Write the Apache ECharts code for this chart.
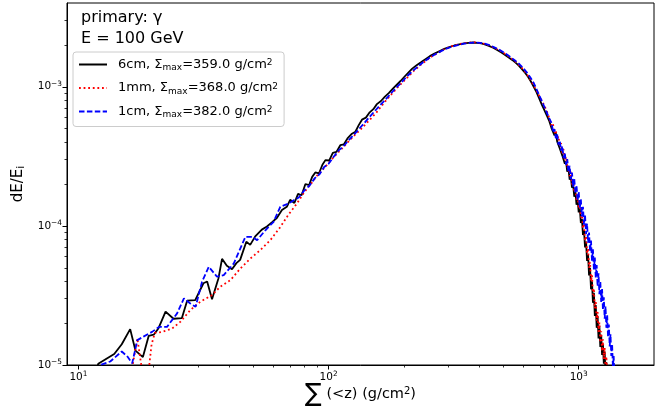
<!DOCTYPE html>
<html>
<head>
<meta charset="utf-8">
<script src="https://cdn.jsdelivr.net/npm/echarts@6/dist/echarts.min.js"></script>
<style>html,body{margin:0;padding:0;background:#fff}#c{width:664px;height:410px}</style>
</head>
<body>
<div id="c"></div>
<script>
const FONT = '"DejaVu Sans", sans-serif';

// ---- data ----
const seriesNames = ['6cm', '1mm', '1cm'];
const sigmaMax = ['359.0', '368.0', '382.0'];
const titleLines = ['primary: \u03b3', 'E = 100 GeV'];

const xMajor = [10, 100, 1000];
const xMinor = [20, 30, 40, 50, 60, 70, 80, 90, 200, 300, 400, 500, 600, 700, 800, 900];
const yMajor = [1e-5, 1e-4, 1e-3];
const yMinor = [2e-5, 3e-5, 4e-5, 5e-5, 6e-5, 7e-5, 8e-5, 9e-5, 2e-4, 3e-4, 4e-4, 5e-4, 6e-4, 7e-4, 8e-4, 9e-4, 2e-3, 3e-3];

const blackX = [11.3,12.0,13.9,14.9,16.1,16.9,18.1,19.1,20.0,20.9,22.3,24.0,25.9,27.2,29.3,31.6,32.7,34.2,36.3,37.5,39.2,41.1,42.8,44.3,46.9,48.6,50.9,54.1,56.7,59.3,62.1,65.1,68.1,70.2,
  73.0,75.5,78.0,80.8,83.5,86.0,88.5,91.5,94.5,97.1,100.5,104,107.5,111.4,115,119,124,128,132,136,141,146,151,156,162,168,174,180,187,194,201,208,216,225,234,244,254,265,277,290,304,318,333,348,363,378,393,408,424,440,457,474,491,508,525,542,559,576,593,610,627,644,661,678,695,712,729,746,763,
  780,790,800,810,820,830,840,850,860,870,880,890,900,910,920,930,940,950,960,970,980,990,1000,1010,1020,1030,1040,1050,1060,1070,1080,1090,1100,1110,1120,1130,1140,1150,1160,1170,1180,1190,1200,1210,1220,1230,1240,1250,1260,1270,1280,1290,1300];
const blackY = [7.0e-6,1.02e-5,1.20e-5,1.41e-5,1.81e-5,1.27e-5,1.14e-5,1.62e-5,1.65e-5,1.84e-5,2.42e-5,2.15e-5,2.17e-5,2.90e-5,2.93e-5,3.87e-5,3.98e-5,2.97e-5,4.21e-5,5.8e-5,5.16e-5,4.88e-5,5.4e-5,5.7e-5,7.7e-5,7.3e-5,8.4e-5,9.4e-5,9.9e-5,1.06e-4,1.14e-4,1.30e-4,1.37e-4,1.54e-4,
  1.46e-4,1.70e-4,1.66e-4,2.0e-4,1.96e-4,2.25e-4,2.42e-4,2.38e-4,2.75e-4,2.97e-4,2.95e-4,3.35e-4,3.4e-4,3.8e-4,3.85e-4,4.25e-4,4.6e-4,4.75e-4,5.3e-4,5.8e-4,6.0e-4,6.55e-4,6.9e-4,7.5e-4,7.9e-4,8.5e-4,9.0e-4,9.6e-4,1.03e-3,1.1e-3,1.18e-3,1.26e-3,1.35e-3,1.43e-3,1.5e-3,1.58e-3,1.66e-3,1.73e-3,1.8e-3,1.87e-3,1.93e-3,1.98e-3,2.02e-3,2.05e-3,2.07e-3,2.08e-3,2.07e-3,2.05e-3,2.01e-3,1.96e-3,1.9e-3,1.83e-3,1.76e-3,1.69e-3,1.62e-3,1.56e-3,1.49e-3,1.42e-3,1.34e-3,1.26e-3,1.18e-3,1.09e-3,1.0e-3,9.15e-4,8.25e-4,7.45e-4,6.8e-4,6.2e-4,5.65e-4,
  5.0e-4,5.15e-4,4.47e-4,4.64e-4,4.05e-4,4.1e-4,3.6e-4,3.7e-4,3.2e-4,3.3e-4,2.8e-4,2.9e-4,2.45e-4,2.58e-4,2.15e-4,2.25e-4,1.88e-4,1.98e-4,1.62e-4,1.75e-4,1.42e-4,1.55e-4,1.25e-4,1.34e-4,1.05e-4,1.12e-4,8.6e-5,9.3e-5,7.0e-5,7.7e-5,5.6e-5,6.2e-5,4.4e-5,5.0e-5,3.5e-5,4.0e-5,2.8e-5,3.3e-5,2.25e-5,2.7e-5,1.85e-5,2.25e-5,1.55e-5,1.9e-5,1.35e-5,1.65e-5,1.18e-5,1.42e-5,1.02e-5,1.25e-5,8.8e-6,1.05e-5,7.5e-6];

const redX = [15.9,17.2,18.6,19.6,20.2,21.6,23.7,25.6,28.0,30.7,34.2,36.9,40.5,44.4,48.7,53.3,58.5,64.1,69.0,74.8,
  80,85,90,96,102,108,114,121,128,136,145,155,166,177,190,204,219,235,252,270,290,311,333,356,380,404,430,457,484,511,538,565,592,619,646,673,700,727,754,
  780,790,800,810,820,830,840,850,860,870,880,890,900,910,920,930,940,950,960,970,980,990,1000,1010,1020,1030,1040,1050,1060,1070,1080,1090,1100,1110,1120,1130,1140,1150,1160,1170,1180,1190,1200,1210,1220,1230,1240,1250,1260,1270,1280,1290,1300,1310,1320];
const redY = [7e-6,1.55e-5,6e-6,1.4e-5,1.7e-5,1.73e-5,1.83e-5,2.05e-5,2.48e-5,2.85e-5,3.18e-5,3.65e-5,4.07e-5,4.94e-5,5.83e-5,6.69e-5,7.9e-5,9.8e-5,1.2e-4,1.45e-4,
  1.75e-4,2.0e-4,2.3e-4,2.6e-4,2.95e-4,3.3e-4,3.65e-4,4.1e-4,4.55e-4,5.05e-4,5.7e-4,6.5e-4,7.6e-4,8.7e-4,1.0e-3,1.14e-3,1.3e-3,1.45e-3,1.6e-3,1.73e-3,1.86e-3,1.96e-3,2.03e-3,2.07e-3,2.09e-3,2.07e-3,2.01e-3,1.92e-3,1.82e-3,1.71e-3,1.6e-3,1.49e-3,1.37e-3,1.24e-3,1.1e-3,9.6e-4,8.4e-4,7.4e-4,6.35e-4,
  5.18e-4,5.36e-4,4.63e-4,4.88e-4,4.2e-4,4.41e-4,3.77e-4,3.94e-4,3.34e-4,3.55e-4,2.95e-4,3.13e-4,2.6e-4,2.76e-4,2.28e-4,2.46e-4,1.99e-4,2.14e-4,1.74e-4,1.87e-4,1.52e-4,1.67e-4,1.33e-4,1.46e-4,1.15e-4,1.24e-4,9.55e-5,1.04e-4,7.8e-5,8.5e-5,6.3e-5,6.9e-5,5.0e-5,5.5e-5,4.0e-5,4.44e-5,3.2e-5,3.55e-5,2.55e-5,2.9e-5,2.08e-5,2.41e-5,1.73e-5,2.02e-5,1.45e-5,1.75e-5,1.26e-5,1.53e-5,1.1e-5,1.33e-5,9.6e-6,1.15e-5,8.2e-6,9.4e-6,7.5e-6];

const blueX = [11.6,12.2,13.4,14.9,15.7,16.4,17.2,18.2,19.7,21.0,22.6,24.8,26.4,28.0,29.4,31.2,33.2,35.8,38.1,41.8,44.4,46.5,49.4,51.8,55.9,60.3,64.1,69.3,
  72.6,76,80,84,88,92,96,100,105,110,115,120,126,132,138,145,152,160,168,177,186,196,206,217,229,241,254,268,283,298,314,331,348,366,384,402,421,440,460,480,500,520,540,560,580,600,620,640,660,680,700,720,740,760,
  780,790,800,810,820,830,840,850,860,870,880,890,900,910,920,930,940,950,960,970,980,990,1000,1010,1020,1030,1040,1050,1060,1070,1080,1090,1100,1110,1120,1130,1140,1150,1160,1170,1180,1190,1200,1210,1220,1230,1240,1250,1260,1270,1280,1290,1300,1310,1320,1330,1340,1350,1360,1370,1380,1390,1400,1410];
const blueY = [8e-6,1.0e-5,1.06e-5,1.25e-5,1.15e-5,1.03e-5,1.51e-5,1.60e-5,1.73e-5,1.88e-5,1.88e-5,2.35e-5,3.01e-5,2.77e-5,2.62e-5,3.97e-5,5.08e-5,4.31e-5,4.43e-5,5.37e-5,6.89e-5,8.34e-5,8.34e-5,7.9e-5,9.3e-5,1.07e-4,1.37e-4,1.45e-4,
  1.53e-4,1.6e-4,1.8e-4,1.95e-4,2.2e-4,2.35e-4,2.65e-4,2.8e-4,3.15e-4,3.5e-4,3.75e-4,4.1e-4,4.5e-4,4.95e-4,5.4e-4,6.0e-4,6.6e-4,7.3e-4,8.0e-4,8.9e-4,9.8e-4,1.08e-3,1.19e-3,1.3e-3,1.41e-3,1.52e-3,1.62e-3,1.72e-3,1.81e-3,1.89e-3,1.95e-3,2.0e-3,2.04e-3,2.07e-3,2.08e-3,2.07e-3,2.04e-3,1.99e-3,1.92e-3,1.85e-3,1.77e-3,1.69e-3,1.61e-3,1.53e-3,1.45e-3,1.36e-3,1.27e-3,1.17e-3,1.07e-3,9.5e-4,8.45e-4,7.55e-4,6.75e-4,6.0e-4,
  5.46e-4,4.70e-4,4.96e-4,4.27e-4,4.54e-4,3.84e-4,4.11e-4,3.48e-4,3.75e-4,3.08e-4,3.35e-4,2.75e-4,3.02e-4,2.43e-4,2.7e-4,2.17e-4,2.42e-4,1.91e-4,2.17e-4,1.71e-4,1.96e-4,1.52e-4,1.76e-4,1.35e-4,1.55e-4,1.17e-4,1.37e-4,1.02e-4,1.2e-4,8.76e-5,1.04e-4,7.57e-5,8.96e-5,6.56e-5,7.84e-5,5.62e-5,6.79e-5,4.87e-5,5.92e-5,4.26e-5,5.22e-5,3.68e-5,4.56e-5,3.23e-5,4.01e-5,2.84e-5,3.52e-5,2.49e-5,3.07e-5,2.15e-5,2.64e-5,1.85e-5,2.28e-5,1.59e-5,1.95e-5,1.36e-5,1.66e-5,1.16e-5,1.41e-5,9.7e-6,1.16e-5,7.9e-6,9.0e-6,7.2e-6];

// ---- build ----
function zip(xs, ys) { return xs.map((x, i) => [x, ys[i]]); }
function powLabel(v) {
  const e = Math.round(Math.log10(v));
  return '{b|10}{s|' + (e < 0 ? '\u2212' + (-e) : e) + '}';
}
const tickRich = {
  b: { fontFamily: FONT, fontSize: 10.5, color: '#000', verticalAlign: 'middle' },
  s: { fontFamily: FONT, fontSize: 7.4, color: '#000', verticalAlign: 'middle', padding: [0, 0, 5, 0] }
};
const X_MIN = 9, X_MAX = 2000, Y_MIN = 1e-5, Y_MAX = 4e-3;
const gridBox = { left: 67, right: 10, top: 3, bottom: 45 };
const LW = 1.8;

const chart = echarts.init(document.getElementById('c'));
const option = {
  animation: false,
  backgroundColor: '#fff',
  grid: [
    Object.assign({ show: true, borderColor: '#000', borderWidth: 1, outerBoundsMode: 'none', containLabel: false }, gridBox),
    Object.assign({ show: false, outerBoundsMode: 'none', containLabel: false }, gridBox)
  ],
  xAxis: [
    {
      gridIndex: 0, type: 'log', logBase: 10, min: X_MIN, max: X_MAX,
      axisLine: { show: true, lineStyle: { color: '#000', width: 1 } },
      axisTick: { show: true, customValues: xMajor, length: 4.5, lineStyle: { color: '#000', width: 1 } },
      axisLabel: { show: true, customValues: xMajor, formatter: powLabel, margin: 6, rich: tickRich },
      splitLine: { show: false }, minorTick: { show: false },
      name: '{sum|\u2211}{t| (<z) (g/cm}{sup|2}{t|)}',
      nameLocation: 'middle', nameGap: 17, nameMoveOverlap: false,
      nameTextStyle: {
        fontFamily: FONT, fontSize: 14.5, color: '#000',
        rich: {
          sum: { fontFamily: FONT, fontSize: 25, color: '#000', verticalAlign: 'middle' },
          t: { fontFamily: FONT, fontSize: 14.5, color: '#000', verticalAlign: 'middle' },
          sup: { fontFamily: FONT, fontSize: 10, color: '#000', verticalAlign: 'middle', padding: [0, 0, 7, 0] }
        }
      }
    },
    {
      gridIndex: 1, type: 'log', logBase: 10, min: X_MIN, max: X_MAX,
      axisLine: { show: false },
      axisTick: { show: true, customValues: xMinor, length: 2.5, lineStyle: { color: '#000', width: 0.8 } },
      axisLabel: { show: false }, splitLine: { show: false }
    }
  ],
  yAxis: [
    {
      gridIndex: 0, type: 'log', logBase: 10, min: Y_MIN, max: Y_MAX,
      axisLine: { show: true, lineStyle: { color: '#000', width: 1 } },
      axisTick: { show: true, customValues: yMajor, length: 4.5, lineStyle: { color: '#000', width: 1 } },
      axisLabel: { show: true, customValues: yMajor, formatter: powLabel, margin: 5, rich: tickRich },
      splitLine: { show: false }, minorTick: { show: false },
      name: '{t|dE/E}{sub|i}',
      nameLocation: 'middle', nameGap: 40, nameRotate: 90,
      nameTextStyle: {
        fontFamily: FONT, fontSize: 15, color: '#000',
        rich: {
          t: { fontFamily: FONT, fontSize: 15, color: '#000', verticalAlign: 'middle' },
          sub: { fontFamily: FONT, fontSize: 10.5, color: '#000', verticalAlign: 'middle', padding: [6, 0, 0, 0] }
        }
      }
    },
    {
      gridIndex: 1, type: 'log', logBase: 10, min: Y_MIN, max: Y_MAX,
      axisLine: { show: false },
      axisTick: { show: true, customValues: yMinor, length: 2.5, lineStyle: { color: '#000', width: 0.8 } },
      axisLabel: { show: false }, splitLine: { show: false }
    }
  ],
  legend: {
    data: seriesNames,
    orient: 'vertical', left: 73, top: 52,
    padding: [6, 6, 7, 5],
    itemWidth: 28, itemHeight: 14, itemGap: 9,
    borderColor: '#cccccc', borderWidth: 1, borderRadius: 3,
    backgroundColor: 'rgba(255,255,255,0.8)',
    selectedMode: false,
    itemStyle: { opacity: 0, borderWidth: 0 },
    formatter: function (name) {
      const i = seriesNames.indexOf(name);
      return '{t|' + name + ', \u03a3}{sub|max}{t|=' + sigmaMax[i] + ' g/cm}{sup|2}';
    },
    textStyle: {
      fontFamily: FONT, fontSize: 13, color: '#000', padding: [0, 0, 0, 6],
      rich: {
        t: { fontFamily: FONT, fontSize: 13, color: '#000', verticalAlign: 'middle' },
        sub: { fontFamily: FONT, fontSize: 9, color: '#000', verticalAlign: 'middle', padding: [7, 0, 0, 0] },
        sup: { fontFamily: FONT, fontSize: 9, color: '#000', verticalAlign: 'middle', padding: [0, 0, 3.2, 0] }
      }
    }
  },
  graphic: [
    { type: 'text', left: 81, top: 10, style: { text: titleLines[0], fontFamily: FONT, fontSize: 16, fill: '#000' } },
    { type: 'text', left: 81, top: 30.5, style: { text: titleLines[1], fontFamily: FONT, fontSize: 16, fill: '#000' } }
  ],
  series: [
    {
      name: seriesNames[0], type: 'line', xAxisIndex: 0, yAxisIndex: 0,
      data: zip(blackX, blackY), symbol: 'none', showSymbol: false, clip: true,
      lineStyle: { color: '#000000', width: LW, type: 'solid' }, itemStyle: { color: '#000000' }
    },
    {
      name: seriesNames[1], type: 'line', xAxisIndex: 0, yAxisIndex: 0,
      data: zip(redX, redY), symbol: 'none', showSymbol: false, clip: true,
      lineStyle: { color: '#ff0000', width: LW, type: [1.8, 2.8], cap: 'butt' }, itemStyle: { color: '#ff0000' }
    },
    {
      name: seriesNames[2], type: 'line', xAxisIndex: 0, yAxisIndex: 0,
      data: zip(blueX, blueY), symbol: 'none', showSymbol: false, clip: true,
      lineStyle: { color: '#0000ff', width: LW, type: [5.5, 2.4], cap: 'butt' }, itemStyle: { color: '#0000ff' }
    }
  ]
};
chart.setOption(option);
</script>
</body>
</html>
